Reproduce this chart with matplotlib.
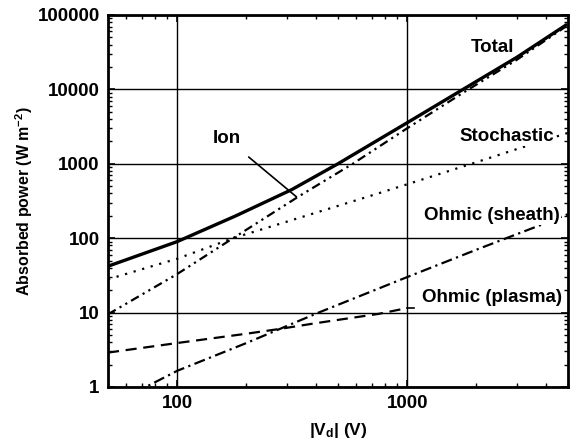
import matplotlib
matplotlib.use("Agg")
import matplotlib.pyplot as plt
from matplotlib.ticker import LogLocator, NullFormatter, FixedLocator

plt.rcParams["font.family"] = ["Liberation Sans", "DejaVu Sans"]
plt.rcParams["font.weight"] = "bold"
plt.rcParams["mathtext.default"] = "regular"

# values (log-log)
total_v = [50, 100, 180, 315, 500, 1000, 1750, 3000, 4900]
total_p = [42, 90, 200, 450, 1000, 3560, 10000, 27000, 73000]

ion_v = [50, 100, 175, 337, 580, 1000, 1750, 3000, 4900]
ion_p = [9.5, 33, 100, 363, 1000, 3000, 9000, 25000, 70000]

stoch_v = [50, 100, 175, 340, 678, 1000, 2000, 2950, 5000]
stoch_p = [28, 53, 100, 188, 363, 530, 1050, 1550, 2600]

sheath_v = [65, 73, 100, 200, 412, 1000, 2000, 3800, 5000]
sheath_p = [0.85, 1.0, 1.65, 3.9, 10, 30, 70, 150, 210]

plasma_v = [50, 100, 200, 276, 400, 750, 1000]
plasma_p = [2.9, 3.9, 5.2, 6.0, 7.2, 9.6, 11.5]

fig = plt.figure(figsize=(5.73, 4.46), dpi=100)
ax = fig.add_axes([0.1885, 0.1323, 0.8025, 0.8341])

ax.plot(stoch_v, stoch_p, color="black", lw=1.6, linestyle=(0, (1, 3)))
ax.plot(ion_v, ion_p, color="black", lw=1.6, linestyle=(0, (4, 2, 1, 2, 1, 2)))
ax.plot(sheath_v, sheath_p, color="black", lw=1.6, linestyle=(0, (5, 2, 1, 2)))
ax.plot(plasma_v, plasma_p, color="black", lw=1.6, linestyle=(0, (5, 3)))
ax.plot(total_v, total_p, color="black", lw=2.4)

ax.set_xscale("log")
ax.set_yscale("log")
ax.set_xlim(50, 5000)
ax.set_ylim(1, 100000)

ax.grid(True, which="major", color="black", lw=1.0)
ax.xaxis.set_major_locator(FixedLocator([100, 1000]))
ax.yaxis.set_major_locator(FixedLocator([1, 10, 100, 1000, 10000, 100000]))
ax.set_xticklabels(["100", "1000"])
ax.set_yticklabels(["1", "10", "100", "1000", "10000", "100000"])
ax.xaxis.set_minor_locator(LogLocator(base=10, subs=range(2, 10)))
ax.yaxis.set_minor_locator(LogLocator(base=10, subs=range(2, 10)))
ax.xaxis.set_minor_formatter(NullFormatter())
ax.yaxis.set_minor_formatter(NullFormatter())
ax.tick_params(which="both", direction="in", top=True, right=True, labelsize=13.5)
ax.tick_params(which="major", length=5, width=1.2, pad=6)
ax.tick_params(which="minor", length=3, width=1.0)
for s in ax.spines.values():
    s.set_linewidth(2)

ax.set_xlabel("|V$_d$| (V)", fontsize=12.5, fontweight="bold", labelpad=6)
ax.set_ylabel("Absorbed power (W m$^{-2}$)", fontsize=11.5, fontweight="bold",
              labelpad=2)

bbox = dict(facecolor="white", edgecolor="none", pad=1)
lab = 13.5
ax.text(2350, 37000, "Total", fontsize=lab, ha="center", va="center")
ax.text(2700, 2320, "Stochastic", fontsize=lab, ha="center", va="center",
        bbox=bbox)
ax.text(2330, 202, "Ohmic (sheath)", fontsize=lab, ha="center", va="center",
        bbox=bbox)
ax.text(2350, 16, "Ohmic (plasma)", fontsize=lab, ha="center", va="center",
        bbox=bbox)
ax.annotate("Ion", xy=(330, 360), xytext=(164, 2180), fontsize=lab,
            ha="center", va="center",
            arrowprops=dict(arrowstyle="-", color="black", lw=1.2,
                            shrinkA=8, shrinkB=0))
ax.plot([1000, 1070], [11.5, 11.5], color="black", lw=1.2)

fig.savefig("out.png", dpi=100)
